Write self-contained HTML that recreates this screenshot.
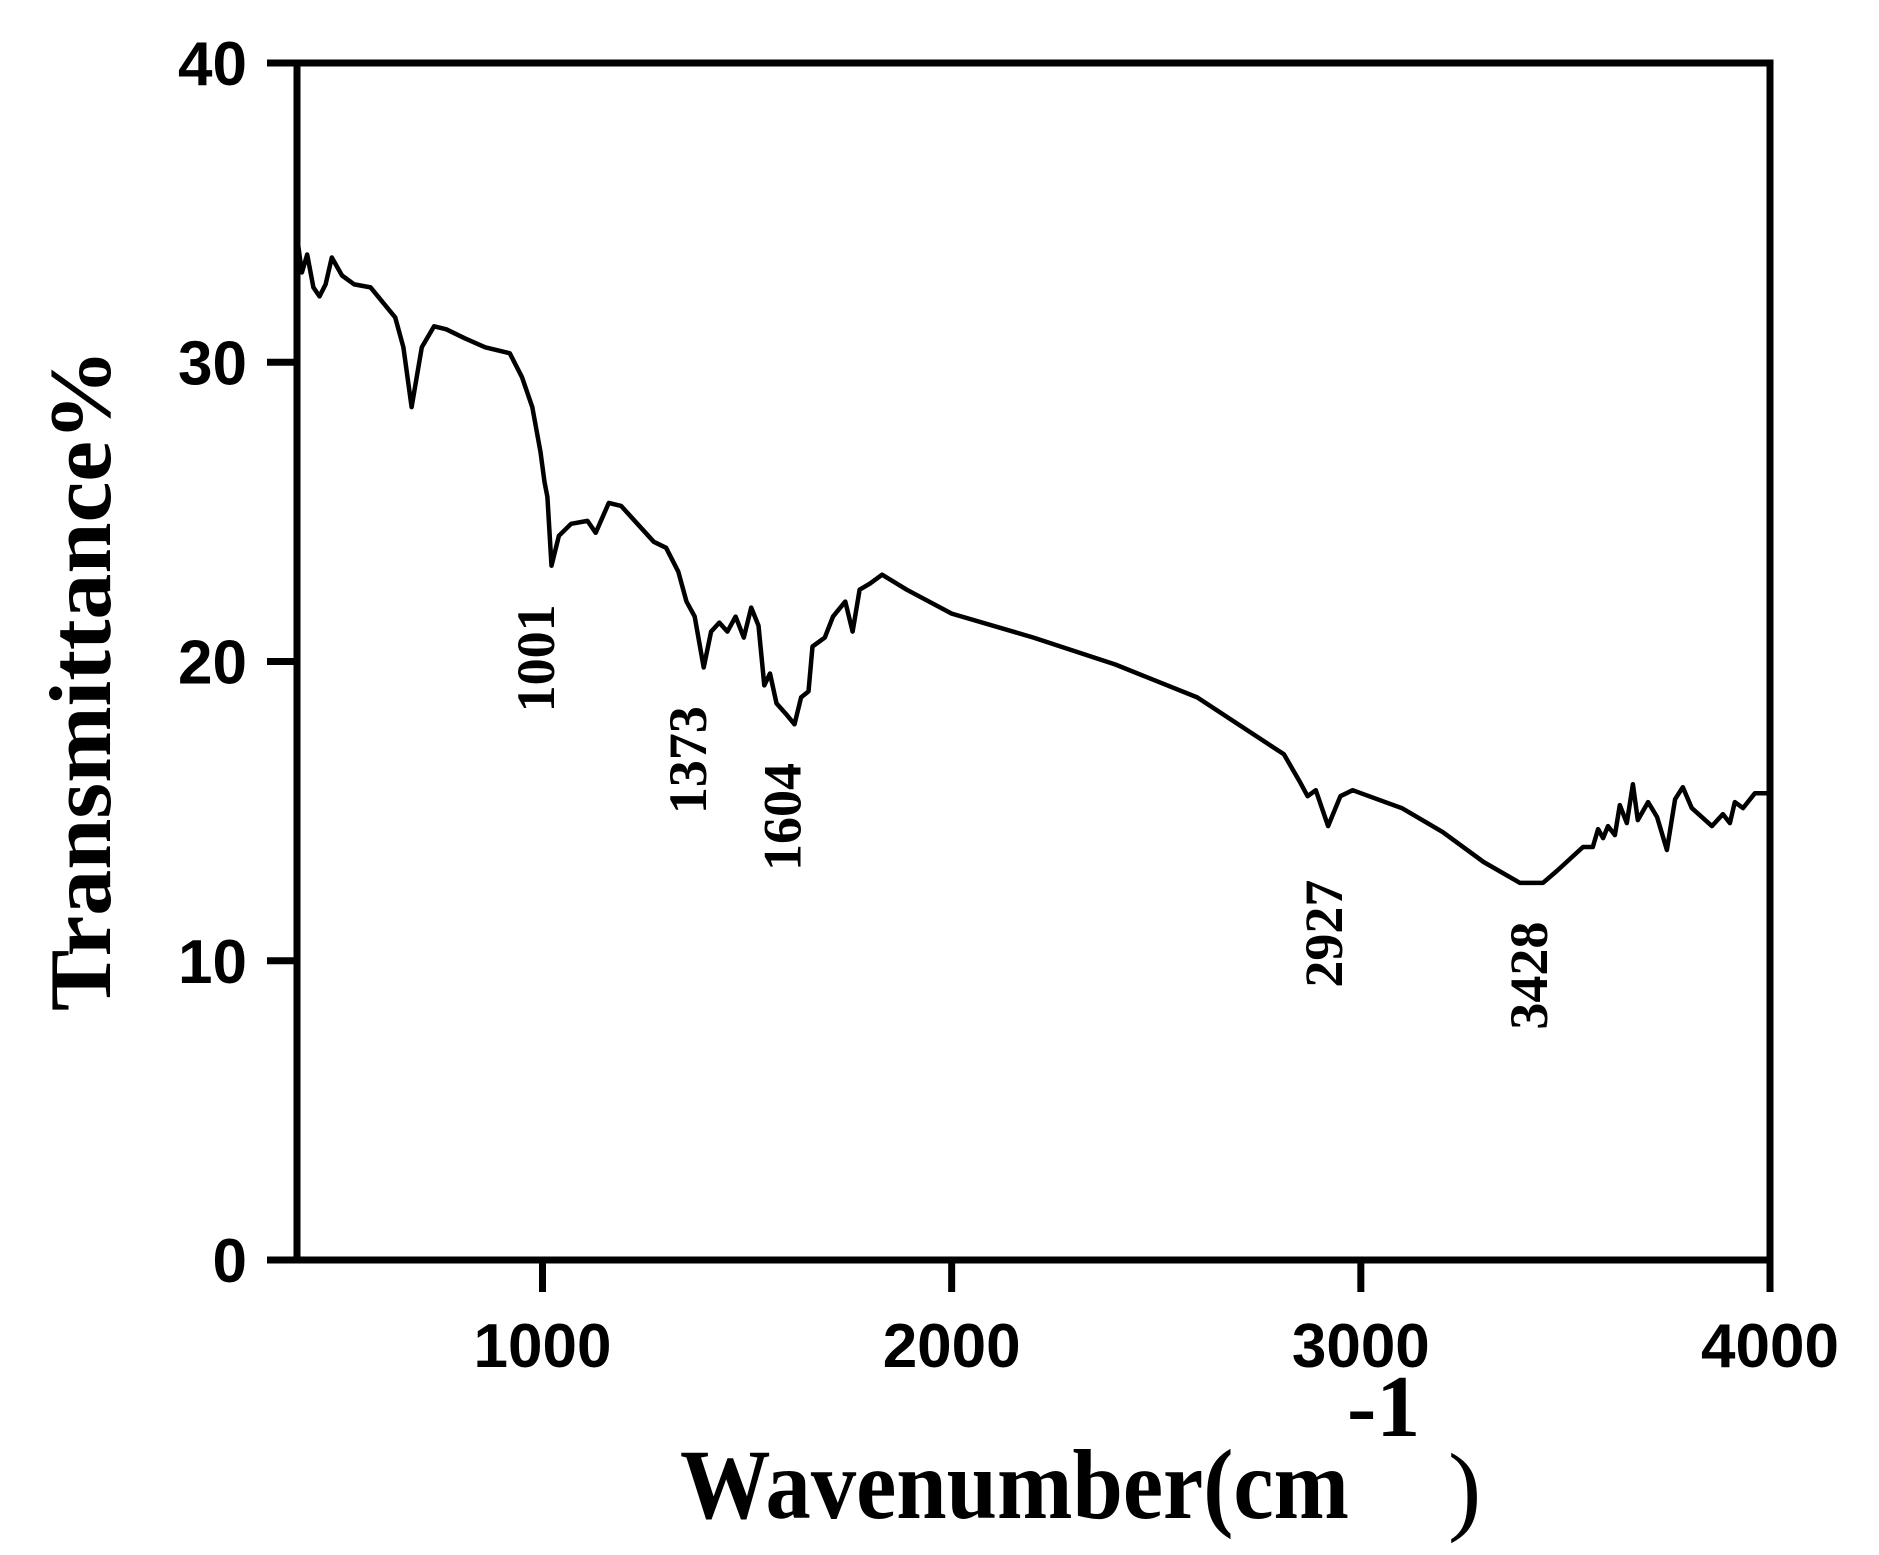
<!DOCTYPE html>
<html><head><meta charset="utf-8"><style>
html,body{margin:0;padding:0;background:#fff;}
svg{display:block;}
</style></head><body>
<svg id="chart" width="1879" height="1555" viewBox="0 0 1879 1555" xmlns="http://www.w3.org/2000/svg">
<g id="axes"></g>
<path id="spectrum" fill="none" stroke="#000" stroke-width="4.5" stroke-linejoin="round"/>
<g id="labels"></g>
<text transform="translate(110,680) rotate(-90)" text-anchor="middle" font-family="Liberation Serif, serif" font-weight="bold" font-size="88" textLength="662" lengthAdjust="spacingAndGlyphs">Transmittance%</text>
<text x="680" y="1518" font-family="Liberation Serif, serif" font-weight="bold" font-size="100" textLength="669" lengthAdjust="spacingAndGlyphs">Wavenumber(cm</text>
<text x="1347" y="1436" font-family="Liberation Serif, serif" font-weight="bold" font-size="88">-1</text>
<text x="1448" y="1522" font-family="Liberation Serif, serif" font-size="100">)</text>
</svg>
<script>
const wavenumbers=[400,412,425,440,455,470,485,510,540,580,610,640,660,680,705,735,765,810,860,920,950,975,995,1005,1012,1022,1040,1070,1110,1130,1162,1192,1232,1272,1302,1332,1352,1372,1394,1412,1432,1452,1472,1492,1510,1528,1542,1556,1572,1598,1616,1632,1650,1660,1690,1710,1740,1758,1775,1800,1830,1890,2000,2200,2400,2600,2812,2850,2870,2890,2920,2950,2980,3000,3100,3200,3300,3389,3445,3479,3511,3543,3567,3580,3592,3604,3621,3633,3650,3665,3677,3702,3724,3748,3768,3787,3809,3858,3885,3902,3914,3934,3963,3991,4000];
const transmittance=[34.2,33.0,33.6,32.5,32.2,32.6,33.5,32.9,32.6,32.5,32.0,31.5,30.5,28.5,30.5,31.2,31.1,30.8,30.5,30.3,29.5,28.5,27.0,26.0,25.5,23.2,24.2,24.6,24.7,24.3,25.3,25.2,24.6,24.0,23.8,23.0,22.0,21.5,19.8,21.0,21.3,21.0,21.5,20.8,21.8,21.2,19.2,19.6,18.6,18.2,17.9,18.8,19.0,20.5,20.8,21.5,22.0,21.0,22.4,22.6,22.9,22.4,21.6,20.8,19.9,18.8,16.9,16.0,15.5,15.7,14.5,15.5,15.7,15.6,15.1,14.3,13.3,12.6,12.6,13.0,13.4,13.8,13.8,14.4,14.1,14.5,14.2,15.2,14.6,15.9,14.7,15.3,14.8,13.7,15.4,15.8,15.1,14.5,14.9,14.6,15.3,15.1,15.6,15.6,15.6];
const xTicks=[1000,2000,3000,4000];
const yTicks=[0,10,20,30,40];
const peakLabels=["1001","1373","1604","2927","3428"];
const peakWn=[1001,1373,1604,2927,3428];
const peakT=[18.3,14.9,13.0,9.1,7.7];

const L=297,R=1770,T=63,B=1260,XMIN=400,XMAX=4000,YMIN=0,YMAX=40;
const sx=v=>L+(v-XMIN)/(XMAX-XMIN)*(R-L);
const sy=v=>B-(v-YMIN)/(YMAX-YMIN)*(B-T);
const NS="http://www.w3.org/2000/svg";
const axes=document.getElementById('axes');
function mk(tag,attrs,parent){const e=document.createElementNS(NS,tag);for(const k in attrs)e.setAttribute(k,attrs[k]);parent.appendChild(e);return e;}
const frame=mk('rect',{x:L,y:T,width:R-L,height:B-T,fill:'none',stroke:'#000','stroke-width':7},axes);


yTicks.forEach(v=>{
  const ln=mk('line',{x1:L-30,x2:L,y1:sy(v),y2:sy(v),stroke:'#000','stroke-width':7},axes);
  
  
  const t=mk('text',{x:247,y:sy(v)+22,'text-anchor':'end','font-family':'Liberation Sans, sans-serif','font-weight':'bold','font-size':62},axes);
  
  
  t.textContent=v;
});
xTicks.forEach(v=>{
  const ln=mk('line',{x1:sx(v),x2:sx(v),y1:B,y2:B+32,stroke:'#000','stroke-width':7},axes);
  
  
  const t=mk('text',{x:sx(v),y:1367,'text-anchor':'middle','font-family':'Liberation Sans, sans-serif','font-weight':'bold','font-size':62},axes);
  
  
  t.textContent=v;
});
let d='';
wavenumbers.forEach((w,i)=>{d+=(i?'L':'M')+sx(w).toFixed(1)+','+sy(transmittance[i]).toFixed(1);});
document.getElementById('spectrum').setAttribute('d',d);
const lg=document.getElementById('labels');
peakLabels.forEach((s,i)=>{
  const cx=sx(peakWn[i])-7, by=sy(peakT[i]);
  const t=mk('text',{'text-anchor':'start','dominant-baseline':'central','font-family':'Liberation Serif, serif','font-weight':'bold','font-size':54},lg);
  
  
  t.setAttribute('transform',`translate(${cx},${by}) rotate(-90)`);
  t.textContent=s;
});
</script>
</body></html>
